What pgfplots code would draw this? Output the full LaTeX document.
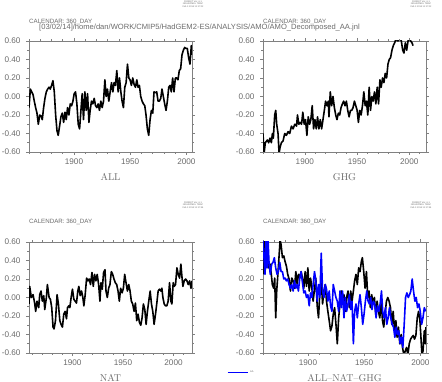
\documentclass[border=0pt]{standalone}
\usepackage{pgfplots}
\pgfplotsset{compat=1.18}
\usepackage{fontspec}
\newfontfamily\hel{Liberation Sans}
\definecolor{txtgray}{gray}{0.42}
\definecolor{framegray}{gray}{0.5}
\definecolor{aablue}{RGB}{0,0,255}
\pgfplotsset{
  amo/.style={
    scale only axis, width=163bp, height=111bp,
    ymin=-0.6, ymax=0.6,
    ytick={-0.6,-0.4,-0.2,0,0.2,0.4,0.6},
    minor ytick={-0.5,-0.3,-0.1,0.1,0.3,0.5},
    xtick={1900,1950,2000},
    minor xtick={1860,1870,1880,1890,1910,1920,1930,1940,1960,1970,1980,1990,2010},
    tick align=outside,
    major tick length=3bp, minor tick length=1.8bp,
    tick style={color=framegray, line width=0.5bp},
    axis line style={color=framegray, line width=0.7bp},
    /pgf/number format/assume math mode=true,
    every tick label/.append style={text=txtgray, font=\hel\fontsize{8.2}{9}\selectfont},
    yticklabel style={xshift=-2bp, /pgf/number format/fixed, /pgf/number format/fixed zerofill, /pgf/number format/precision=2},
    xticklabel style={/pgf/number format/1000 sep={}},
    xlabel style={at={(0.5,-0.225)}, anchor=center, text=txtgray, font=\fontsize{10}{12}\selectfont},
    every axis plot/.append style={line width=1.6bp, line join=round, no markers},
  }
}
\begin{document}
\begin{tikzpicture}
\useasboundingbox (0,0) rectangle (442bp,382bp);
% header texts
\begin{scope}[every node/.style={text=txtgray, inner sep=0pt}]
\node[align=center, font=\hel\fontsize{2.3}{2.6}\selectfont] at (193bp,378bp) {FERRET Ver. 6.1\\NOAA/PMEL TMAP\\Feb 3 2014 11:17:02};
\node[align=center, font=\hel\fontsize{2.3}{2.6}\selectfont] at (421bp,378bp) {FERRET Ver. 6.1\\NOAA/PMEL TMAP\\Feb 3 2014 11:17:02};
\node[align=center, font=\hel\fontsize{2.3}{2.6}\selectfont] at (193bp,177bp) {FERRET Ver. 6.1\\NOAA/PMEL TMAP\\Feb 3 2014 11:17:44};
\node[align=center, font=\hel\fontsize{2.3}{2.6}\selectfont] at (421bp,177bp) {FERRET Ver. 6.1\\NOAA/PMEL TMAP\\Feb 3 2014 11:17:44};
\node[anchor=west, font=\hel\fontsize{6.2}{7}\selectfont] at (29bp,360.5bp) {CALENDAR: 360\_DAY};
\node[anchor=west, font=\hel\fontsize{6.2}{7}\selectfont] at (263bp,360.5bp) {CALENDAR: 360\_DAY};
\node[anchor=west, font=\hel\fontsize{6.2}{7}\selectfont] at (29bp,159.8bp) {CALENDAR: 360\_DAY};
\node[anchor=west, font=\hel\fontsize{6.2}{7}\selectfont] at (263bp,159.8bp) {CALENDAR: 360\_DAY};
\node[anchor=west, font=\hel\fontsize{7.6}{8}\selectfont] at (39bp,354bp) {[03/02/14]/home/dan/WORK/CMIP5/HadGEM2-ES/ANALYSIS/AMO/AMO\_Decomposed\_AA.jnl};
\end{scope}

% ALL
\begin{axis}[amo, at={(29bp,230bp)}, anchor=south west, xmin=1860, xmax=2005, xlabel={ALL}]
\addplot[black] coordinates {
(1860.0,-0.12)(1861.2,0.08)(1862.4,0.05)(1863.6,0.02)(1864.7,-0.05)(1865.9,-0.12)(1867.1,-0.18)(1868.3,-0.30)(1869.5,-0.20)(1870.7,-0.21)(1871.8,-0.25)(1873.0,-0.12)(1874.2,-0.02)(1875.4,0.05)(1876.6,0.08)(1877.8,0.10)(1878.9,0.08)(1880.1,0.12)(1881.3,0.17)(1882.5,0.05)(1883.7,-0.20)(1884.9,-0.37)(1886.0,-0.42)(1887.2,-0.32)(1888.4,-0.22)(1889.6,-0.18)(1890.8,-0.28)(1892.0,-0.17)(1893.1,-0.25)(1894.3,-0.12)(1895.5,-0.20)(1896.7,-0.08)(1897.9,-0.10)(1899.1,-0.05)(1900.2,0.03)(1901.4,0.05)(1902.6,-0.08)(1903.8,-0.30)(1905.0,-0.35)(1906.2,-0.15)(1907.3,0.03)(1908.5,-0.25)(1909.7,0.05)(1910.9,-0.15)(1912.1,0.03)(1913.3,-0.28)(1914.4,-0.15)(1915.6,-0.05)(1916.8,-0.08)(1918.0,-0.02)(1919.2,-0.10)(1920.4,-0.12)(1921.5,-0.08)(1922.7,-0.15)(1923.9,-0.05)(1925.1,-0.12)(1926.3,-0.05)(1927.5,0.18)(1928.6,0.00)(1929.8,0.08)(1931.0,-0.05)(1932.2,0.05)(1933.4,0.15)(1934.6,0.05)(1935.7,0.15)(1936.9,0.12)(1938.1,0.28)(1939.3,0.05)(1940.5,0.20)(1941.7,0.05)(1942.8,-0.05)(1944.0,-0.12)(1945.2,0.10)(1946.4,0.15)(1947.6,0.35)(1948.8,0.20)(1949.9,0.18)(1951.1,0.12)(1952.3,0.20)(1953.5,0.13)(1954.7,0.10)(1955.9,0.18)(1957.0,0.10)(1958.2,0.12)(1959.4,0.00)(1960.6,-0.05)(1961.8,-0.08)(1963.0,-0.10)(1964.1,-0.20)(1965.3,-0.35)(1966.5,-0.42)(1967.7,-0.25)(1968.9,-0.15)(1970.1,-0.18)(1971.2,0.05)(1972.4,0.04)(1973.6,0.05)(1974.8,-0.05)(1976.0,-0.05)(1977.2,-0.02)(1978.3,0.08)(1979.5,0.00)(1980.7,-0.08)(1981.9,-0.15)(1983.1,-0.05)(1984.3,0.10)(1985.4,0.12)(1986.6,0.05)(1987.8,0.20)(1989.0,0.05)(1990.2,0.20)(1991.4,0.20)(1992.5,0.18)(1993.7,0.28)(1994.9,0.30)(1996.1,0.45)(1997.3,0.50)(1998.5,0.53)(1999.6,0.52)(2000.8,0.52)(2002.0,0.42)(2003.2,0.35)(2004.4,0.55)(2005.0,0.45)
};
\end{axis}

% GHG
\begin{axis}[amo, at={(263bp,230bp)}, anchor=south west, xmin=1860, xmax=2016, xlabel={GHG}]
\addplot[black] coordinates {
(1860.0,-0.40)(1861.0,-0.62)(1862.2,-0.50)(1864.2,-0.47)(1865.4,-0.50)(1866.7,-0.45)(1868.0,-0.50)(1869.0,-0.40)(1869.9,-0.45)(1871.2,-0.20)(1872.2,-0.15)(1873.1,-0.30)(1874.4,-0.40)(1875.4,-0.62)(1876.3,-0.55)(1877.6,-0.50)(1879.2,-0.48)(1880.8,-0.40)(1882.4,-0.42)(1884.0,-0.38)(1885.6,-0.40)(1887.2,-0.32)(1888.8,-0.35)(1890.4,-0.30)(1892.1,-0.32)(1893.0,-0.20)(1894.3,-0.30)(1895.6,-0.28)(1896.9,-0.30)(1898.1,-0.17)(1899.4,-0.30)(1900.7,-0.25)(1902.0,-0.42)(1903.3,-0.22)(1904.6,-0.30)(1905.8,-0.25)(1907.1,-0.10)(1908.4,-0.35)(1909.7,-0.25)(1911.0,-0.35)(1912.2,-0.22)(1913.5,-0.35)(1914.8,-0.25)(1916.1,-0.35)(1917.4,-0.25)(1918.7,-0.15)(1919.9,-0.05)(1921.2,-0.10)(1922.5,-0.05)(1923.1,-0.22)(1924.4,0.05)(1925.7,-0.10)(1927.0,0.00)(1928.3,-0.12)(1929.6,-0.20)(1930.8,-0.25)(1932.1,-0.18)(1933.4,-0.20)(1934.7,-0.12)(1936.0,-0.08)(1937.2,-0.05)(1938.5,-0.10)(1939.8,-0.05)(1941.1,-0.15)(1942.4,-0.22)(1943.7,-0.15)(1944.9,-0.15)(1946.2,-0.12)(1947.5,-0.05)(1948.8,-0.10)(1950.1,-0.15)(1951.3,-0.28)(1952.6,-0.15)(1953.9,-0.20)(1955.2,-0.10)(1956.5,0.05)(1957.8,-0.10)(1959.0,-0.05)(1960.3,-0.20)(1961.6,0.10)(1962.9,-0.15)(1964.2,0.00)(1965.4,-0.05)(1966.7,0.05)(1968.0,-0.08)(1969.3,0.10)(1970.6,-0.08)(1971.9,0.18)(1973.1,0.10)(1974.4,0.20)(1975.7,0.15)(1977.0,0.25)(1978.3,0.20)(1979.6,0.35)(1980.8,0.40)(1982.1,0.42)(1983.4,0.50)(1984.7,0.55)(1986.0,0.58)(1987.2,0.62)(1989.2,0.60)(1990.4,0.65)(1992.4,0.60)(1993.7,0.50)(1994.9,0.47)(1996.2,0.58)(1997.5,0.50)(1998.8,0.60)(2000.1,0.65)(2001.3,0.60)(2002.6,0.58)(2003.6,0.55)
};
\end{axis}

% NAT
\begin{axis}[amo, at={(29bp,29bp)}, anchor=south west, xmin=1857, xmax=2018.3, xlabel={NAT}]
\addplot[black] coordinates {
(1857.0,-0.07)(1857.7,0.12)(1859.3,0.00)(1861.0,0.03)(1862.6,-0.06)(1863.6,-0.15)(1864.9,-0.04)(1866.6,-0.11)(1867.6,0.03)(1868.9,0.07)(1870.2,-0.04)(1871.6,0.02)(1872.6,-0.13)(1874.2,0.00)(1875.2,0.14)(1876.9,0.00)(1878.2,-0.02)(1879.5,-0.11)(1880.8,-0.32)(1881.8,-0.34)(1883.2,-0.25)(1884.8,0.03)(1886.1,-0.07)(1887.5,-0.25)(1889.1,-0.30)(1890.1,-0.32)(1891.4,-0.18)(1892.8,-0.15)(1894.1,-0.23)(1895.1,-0.11)(1896.4,-0.09)(1897.4,-0.11)(1898.7,0.00)(1900.0,0.09)(1901.4,-0.02)(1902.7,-0.04)(1904.0,-0.06)(1905.3,0.07)(1906.3,0.12)(1907.7,0.02)(1909.0,0.07)(1910.3,0.00)(1911.3,-0.09)(1912.6,0.03)(1914.0,0.21)(1915.3,0.18)(1916.6,0.20)(1917.9,0.14)(1919.3,0.27)(1920.6,0.12)(1921.9,0.25)(1923.2,0.18)(1924.5,0.25)(1925.9,0.14)(1927.2,-0.04)(1928.2,0.16)(1929.5,0.09)(1930.8,0.27)(1932.2,0.30)(1933.2,0.07)(1934.5,0.00)(1935.8,0.10)(1937.1,0.14)(1938.5,0.28)(1939.8,0.25)(1941.1,0.20)(1942.4,0.16)(1943.8,0.14)(1945.1,0.07)(1946.4,-0.04)(1947.7,0.10)(1949.1,0.05)(1950.4,0.10)(1951.7,0.25)(1953.0,0.16)(1954.4,0.07)(1955.7,0.14)(1957.0,0.07)(1958.3,-0.04)(1959.6,-0.07)(1961.0,-0.15)(1962.3,-0.06)(1963.6,-0.25)(1964.9,-0.18)(1966.3,-0.27)(1967.6,-0.30)(1968.9,-0.22)(1970.2,-0.07)(1971.6,-0.13)(1972.9,-0.29)(1974.2,-0.15)(1975.5,-0.04)(1976.9,0.07)(1978.2,-0.07)(1979.5,-0.15)(1980.8,-0.29)(1982.2,-0.18)(1983.5,-0.06)(1984.8,0.07)(1986.1,0.09)(1987.5,0.07)(1988.5,0.10)(1989.5,0.00)(1990.8,-0.07)(1992.1,-0.09)(1993.4,-0.09)(1994.7,-0.04)(1996.1,0.16)(1997.4,-0.04)(1998.4,-0.07)(1999.7,0.16)(2000.7,0.12)(2002.0,0.14)(2003.4,0.32)(2004.7,0.25)(2006.0,0.21)(2007.3,0.36)(2008.3,0.23)(2009.3,0.12)(2010.6,0.18)(2012.0,0.20)(2013.3,0.18)(2014.6,0.14)(2016.0,0.18)(2017.3,0.10)(2018.3,0.18)
};
\end{axis}

% ALL-NAT-GHG
\begin{axis}[amo, at={(263bp,29bp)}, anchor=south west, xmin=1860, xmax=2005, xlabel={ALL--NAT--GHG},
  legend style={at={(-0.221,-0.175)}, anchor=west, draw=none, fill=none, inner sep=0pt, outer sep=0pt,
    font=\hel\fontsize{2.5}{3}\selectfont, text=txtgray},
  legend image code/.code={\draw[#1, line width=1.2bp] (0bp,0bp) -- (20bp,0bp);}]
\addplot[black, forget plot] coordinates {
(1860.0,0.25)(1860.9,0.62)(1861.8,0.28)(1863.0,0.43)(1863.9,0.62)(1865.1,0.32)(1866.3,0.36)(1867.4,0.25)(1868.3,0.14)(1869.5,0.10)(1870.4,0.21)(1871.3,-0.22)(1872.2,0.07)(1873.4,0.28)(1874.3,0.45)(1875.2,0.62)(1876.1,0.57)(1877.3,0.43)(1878.5,0.45)(1879.6,0.39)(1880.8,0.34)(1882.0,0.25)(1883.2,0.20)(1884.4,0.07)(1885.6,0.21)(1886.8,0.18)(1888.0,0.10)(1889.2,0.28)(1890.4,0.14)(1891.5,0.25)(1892.7,0.21)(1893.9,0.28)(1895.1,0.21)(1896.3,0.10)(1897.5,0.28)(1898.7,0.12)(1899.9,0.32)(1901.1,0.07)(1902.3,0.21)(1903.5,0.10)(1904.6,-0.04)(1905.8,0.09)(1907.0,0.21)(1908.2,-0.09)(1909.4,-0.22)(1910.6,0.07)(1911.8,0.18)(1913.0,-0.07)(1914.2,0.07)(1915.4,0.14)(1916.5,-0.04)(1917.7,-0.15)(1918.9,-0.25)(1920.1,-0.36)(1921.3,-0.31)(1922.5,-0.18)(1923.7,-0.11)(1924.9,-0.29)(1926.1,-0.50)(1927.3,-0.22)(1928.5,-0.07)(1929.6,0.07)(1930.8,-0.07)(1932.0,0.03)(1933.2,-0.15)(1934.4,0.00)(1935.6,0.07)(1936.8,-0.11)(1938.0,0.07)(1939.2,-0.04)(1940.4,0.07)(1941.5,0.18)(1942.7,0.25)(1943.9,0.14)(1945.1,0.32)(1946.3,0.28)(1947.5,0.39)(1948.4,0.43)(1949.6,0.28)(1950.8,0.10)(1952.0,0.28)(1953.2,0.00)(1954.3,0.07)(1955.5,-0.11)(1956.7,0.03)(1957.9,-0.07)(1959.1,0.00)(1960.3,-0.18)(1961.5,-0.04)(1962.7,-0.15)(1963.9,-0.22)(1965.1,-0.04)(1966.3,-0.25)(1967.4,-0.32)(1968.6,-0.18)(1969.8,-0.04)(1971.0,0.00)(1972.2,-0.04)(1973.4,-0.11)(1974.6,-0.29)(1975.8,-0.15)(1977.0,-0.36)(1978.2,-0.25)(1979.3,-0.43)(1980.5,-0.32)(1981.7,-0.50)(1982.9,-0.40)(1984.1,-0.54)(1985.3,-0.62)(1986.5,-0.58)(1987.7,-0.54)(1988.9,-0.62)(1990.1,-0.50)(1991.3,-0.45)(1992.4,-0.43)(1993.6,-0.41)(1994.8,-0.45)(1996.0,-0.41)(1997.2,-0.22)(1998.4,-0.15)(1999.6,-0.25)(2000.5,-0.43)(2001.4,-0.62)(2002.3,-0.58)(2003.5,-0.36)(2004.3,-0.50)(2004.9,-0.32)
};
\addplot[aablue] coordinates {
(1860.0,0.62)(1860.9,0.43)(1861.8,0.25)(1862.7,0.62)(1863.6,0.32)(1864.5,0.62)(1865.4,0.36)(1866.5,0.25)(1867.7,0.36)(1868.9,0.38)(1870.1,0.43)(1871.3,0.32)(1872.5,0.25)(1873.7,0.28)(1874.9,0.38)(1876.1,0.28)(1877.3,0.28)(1878.5,0.20)(1879.6,0.21)(1880.8,0.18)(1882.0,0.20)(1883.2,0.14)(1884.4,0.10)(1885.6,0.14)(1886.8,0.07)(1888.0,0.18)(1889.2,0.10)(1890.4,0.14)(1891.5,0.07)(1892.7,0.21)(1893.9,0.28)(1895.1,0.16)(1896.3,0.05)(1897.5,0.07)(1898.7,0.00)(1899.9,0.03)(1901.1,-0.09)(1902.3,0.05)(1903.5,0.00)(1904.6,0.14)(1905.8,0.28)(1907.0,0.18)(1908.2,-0.04)(1909.4,0.14)(1910.6,0.00)(1911.8,0.48)(1913.0,0.07)(1914.2,0.00)(1915.4,0.14)(1916.5,0.09)(1917.7,-0.04)(1918.9,0.07)(1920.1,-0.09)(1921.3,-0.15)(1922.5,0.14)(1923.7,0.07)(1924.9,0.00)(1926.1,-0.04)(1927.3,-0.15)(1928.5,0.07)(1929.6,-0.11)(1930.8,0.07)(1932.0,-0.22)(1933.2,0.00)(1934.4,-0.15)(1935.6,-0.07)(1936.8,0.03)(1938.0,-0.13)(1939.2,-0.04)(1940.4,-0.50)(1941.5,-0.15)(1942.7,-0.07)(1943.9,-0.22)(1945.1,-0.07)(1946.3,0.03)(1947.5,-0.11)(1948.7,-0.29)(1949.9,-0.18)(1951.1,-0.04)(1952.3,0.07)(1953.5,-0.04)(1954.6,-0.07)(1955.8,0.00)(1957.0,-0.13)(1958.2,-0.04)(1959.4,-0.07)(1960.6,-0.22)(1961.8,-0.09)(1963.0,-0.15)(1964.2,-0.07)(1965.4,0.07)(1966.5,-0.15)(1967.7,-0.22)(1968.9,-0.11)(1970.1,-0.29)(1971.3,-0.22)(1972.5,-0.11)(1973.7,-0.22)(1974.9,-0.29)(1976.1,-0.32)(1977.3,-0.43)(1978.5,-0.32)(1979.6,-0.40)(1980.8,-0.36)(1982.0,-0.50)(1983.2,-0.43)(1984.4,-0.54)(1985.6,-0.29)(1986.8,0.00)(1988.0,0.05)(1989.2,0.00)(1990.4,0.03)(1991.5,0.07)(1992.7,0.20)(1993.9,0.07)(1995.1,-0.04)(1996.3,0.00)(1997.5,-0.11)(1998.7,-0.07)(1999.9,-0.15)(2001.1,-0.29)(2002.3,-0.22)(2003.5,-0.11)(2004.6,-0.15)
};
\addlegendentry{AA}
\end{axis}
\end{tikzpicture}
\end{document}
